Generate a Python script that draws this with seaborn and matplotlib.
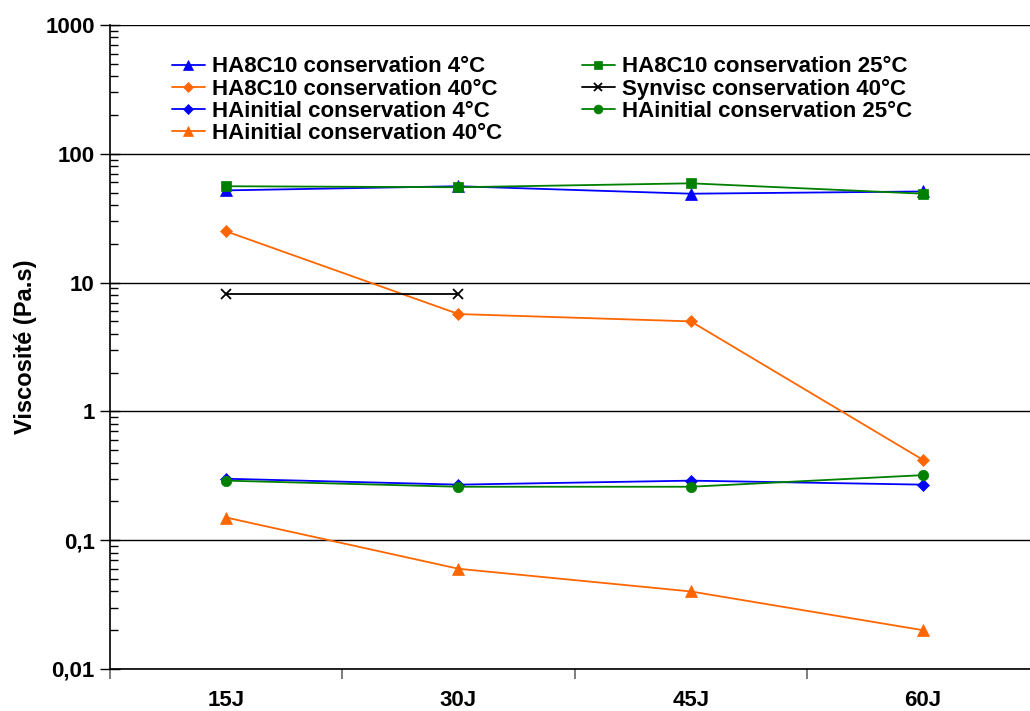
import numpy as np
import pandas as pd
import seaborn as sns
import matplotlib
matplotlib.use("Agg")
import matplotlib.pyplot as plt
from matplotlib.ticker import FixedLocator, LogLocator, NullFormatter

categories = ["15J", "30J", "45J", "60J"]

ha8c10_4 = [52, 56, 49, 51]
ha8c10_25 = [56, 55, 59, 49]
ha8c10_40 = [25, 5.7, 5.0, 0.42]
synvisc_40 = [8.2, 8.2, np.nan, np.nan]
hainit_4 = [0.30, 0.27, 0.29, 0.27]
hainit_25 = [0.29, 0.26, 0.26, 0.32]
hainit_40 = [0.15, 0.06, 0.04, 0.02]

series = [
    ("HA8C10 conservation 4°C", ha8c10_4, "#0000FF", "^", 8),
    ("HA8C10 conservation 25°C", ha8c10_25, "#008000", "s", 7.5),
    ("HA8C10 conservation 40°C", ha8c10_40, "#FF6600", "D", 6),
    ("Synvisc conservation 40°C", synvisc_40, "#000000", "x", 7),
    ("HAinitial conservation 4°C", hainit_4, "#0000FF", "D", 6),
    ("HAinitial conservation 25°C", hainit_25, "#008000", "o", 7.5),
    ("HAinitial conservation 40°C", hainit_40, "#FF6600", "^", 8),
]

sns.set_style("white")
plt.rcParams['font.family'] = ['Liberation Sans', 'DejaVu Sans']
plt.rcParams['text.color'] = 'black'
plt.rcParams['xtick.color'] = 'black'
plt.rcParams['ytick.color'] = 'black'
plt.rcParams['axes.labelcolor'] = 'black'

fig = plt.figure(figsize=(10.30, 7.11), dpi=100)
ax = fig.add_axes([110/1030, 42/711, 1 - 110/1030, (669-25)/711])

for name, vals, color, marker, ms in series:
    df = pd.DataFrame({"x": categories, "y": vals}).dropna()
    sns.lineplot(data=df, x="x", y="y", ax=ax, color=color, marker=marker,
                 markersize=ms, linewidth=1.3, markeredgecolor=color,
                 markeredgewidth=1.3 if marker == "x" else 0.5, label=name, sort=False)

ax.set_yscale("log")
ax.set_ylim(0.01, 1000)
ax.set_xlim(-0.5, 3.46)

ax.set_yticks([0.01, 0.1, 1, 10, 100, 1000])
ax.set_yticklabels(["0,01", "0,1", "1", "10", "100", "1000"])
ax.yaxis.set_minor_locator(LogLocator(base=10, subs=np.arange(2, 10), numticks=100))
ax.yaxis.set_minor_formatter(NullFormatter())
ax.tick_params(axis="y", which="both", left=True)
ax.tick_params(axis="y", which="major", direction="inout", length=14, width=1, color="black",
               labelsize=16, pad=4)
ax.tick_params(axis="y", which="minor", direction="in", length=6, width=1, color="black")
ax.grid(True, axis="y", which="major", color="black", linewidth=1)
ax.grid(False, axis="x")

ax.set_xticks(range(len(categories)))
ax.set_xticklabels(categories)
ax.xaxis.set_minor_locator(FixedLocator([-0.5, 0.5, 1.5, 2.5]))
ax.tick_params(axis="x", which="both", bottom=True)
ax.tick_params(axis="x", which="major", length=0, labelsize=16, pad=15)
ax.tick_params(axis="x", which="minor", direction="out", length=7, width=1.2, color="#666666")
for lab in ax.get_xticklabels() + ax.get_yticklabels():
    lab.set_fontweight("bold")

ax.set_xlabel("")
ax.set_ylabel("Viscosité (Pa.s)", fontsize=17, fontweight="bold", labelpad=6)

for s in ["top", "right"]:
    ax.spines[s].set_visible(False)
ax.spines["left"].set_color("black")
ax.spines["bottom"].set_color("black")
ax.spines["left"].set_linewidth(1.2)
ax.spines["bottom"].set_linewidth(1.2)

h, l = ax.get_legend_handles_labels()
d = dict(zip(l, h))
order = ["HA8C10 conservation 4°C", "HA8C10 conservation 40°C", "HAinitial conservation 4°C",
         "HAinitial conservation 40°C", "HA8C10 conservation 25°C", "Synvisc conservation 40°C",
         "HAinitial conservation 25°C"]
ax.legend([d[k] for k in order], order, ncol=2, loc="upper left",
          bbox_to_anchor=(0.0573, 0.965), frameon=False, prop={"weight": "bold", "size": 16},
          handlelength=1.5, handletextpad=0.3, columnspacing=3.6, labelspacing=0.05,
          borderaxespad=0, markerscale=0.85)

fig.savefig("out.png", dpi=100)
